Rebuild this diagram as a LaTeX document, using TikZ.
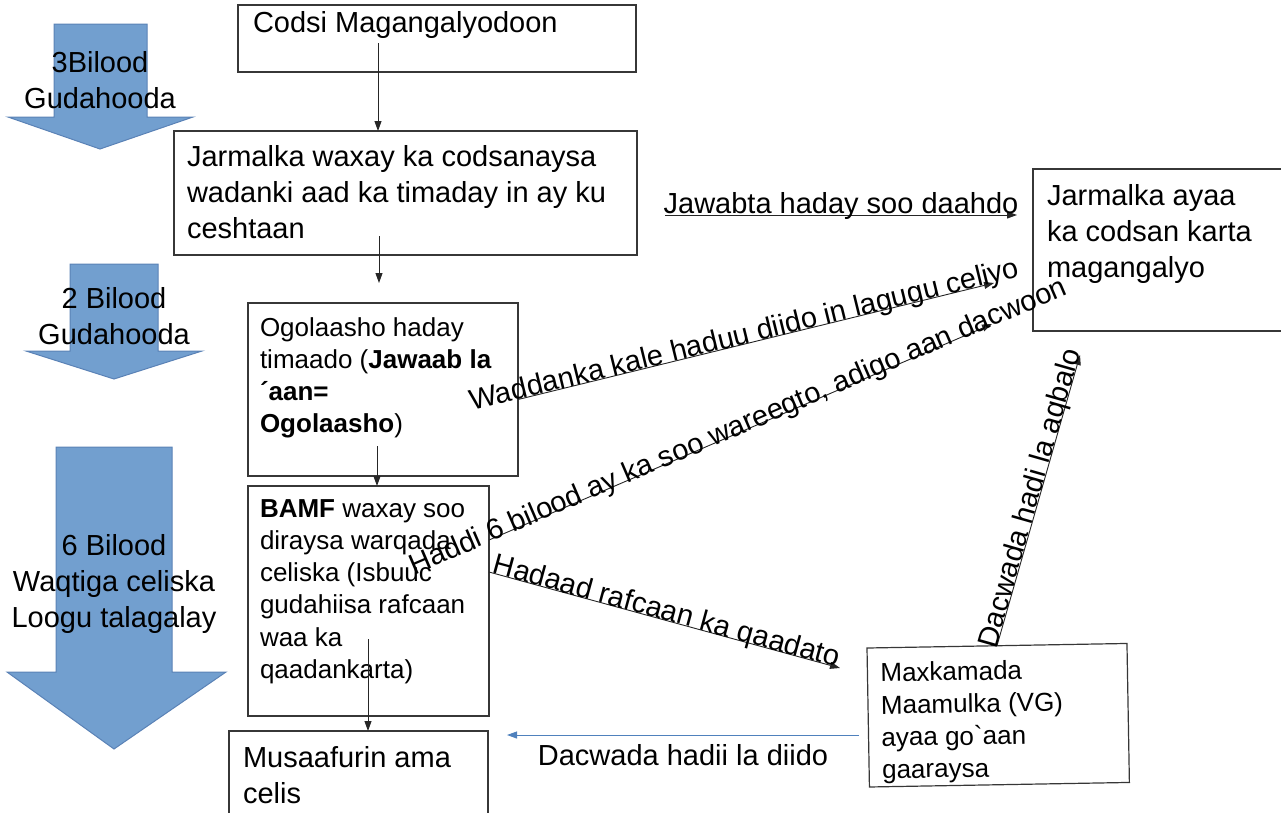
\documentclass[tikz,border=0pt]{standalone}
\usepackage{fontspec}
\setmainfont{Liberation Sans}[Ligatures=TeXOff]
\usetikzlibrary{arrows.meta,calc}
\definecolor{arrfill}{RGB}{114,159,207}
\definecolor{arrline}{RGB}{90,130,182}
\definecolor{bluecon}{RGB}{79,129,189}
\definecolor{boxline}{RGB}{55,55,55}
\newcommand\bigfont{\fontsize{29}{36}\selectfont}
\newcommand\smallfont{\fontsize{26}{32.3}\selectfont}
\newcommand\boxtext[4]{\parbox[b][#1][t]{#2}{\raggedright\rule{0pt}{#3}#4}}
\begin{document}
\begin{tikzpicture}[x=1pt,y=-1pt,
  box/.style={draw=boxline, line width=1.2pt, inner ysep=0pt, outer sep=0pt, anchor=north west, font=\bigfont},
  con/.style={draw=black!85, line width=0.9pt, -{Triangle[length=10pt,width=7pt]}},
  lbl/.style={font=\bigfont, inner sep=0pt, text=black},
  bigarrow/.style={fill=arrfill, draw=arrline, line width=1pt}]
\useasboundingbox (0,0) rectangle (1281,812);
\clip (0,0) rectangle (1281,812);

% big blue arrows
\draw[bigarrow] (54,24) -- (147,24) -- (147,117) -- (193,117) -- (100,149) -- (8,117) -- (54,117) -- cycle;
\draw[bigarrow] (70,264) -- (158,264) -- (158,351) -- (202,351) -- (114,379) -- (26,351) -- (70,351) -- cycle;
\draw[bigarrow] (56,447) -- (172,447) -- (172,672) -- (226,672) -- (114,749) -- (7,672) -- (56,672) -- cycle;
\node[lbl, anchor=base] (a1) at (100,72) {\begin{tabular}[t]{@{}c@{}}3Bilood\\Gudahooda\end{tabular}};
\node[lbl, anchor=base] (a2) at (114,308) {\begin{tabular}[t]{@{}c@{}}2 Bilood\\Gudahooda\end{tabular}};
\node[lbl, anchor=base] (a3) at (114,555) {\begin{tabular}[t]{@{}c@{}}6 Bilood\\Waqtiga celiska\\Loogu talagalay\end{tabular}};

% boxes
\node[box, inner xsep=15pt] (codsi) at (238,5) {\boxtext{67pt}{368pt}{27pt}{Codsi Magangalyodoon}};
\node[box, inner xsep=13pt] (jarm) at (174,131) {\boxtext{124pt}{437pt}{35pt}{Jarmalka waxay ka codsanaysa\\wadanki aad ka timaday in ay ku\\ceshtaan}};
\node[box, inner xsep=12pt, font=\smallfont] (ogol) at (248,303) {\boxtext{173pt}{246pt}{33pt}{Ogolaasho haday\\timaado (\textbf{Jawaab la}\\\textbf{´aan=}\\\textbf{Ogolaasho})}};
\node[box, inner xsep=12pt, font=\smallfont] (bamf) at (248,486) {\boxtext{230pt}{217pt}{31pt}{\textbf{BAMF} waxay soo\\diraysa warqada\\celiska (Isbuuc\\gudahiisa rafcaan\\waa ka\\qaadankarta)}};
\node[box, inner xsep=14pt] (musa) at (229,731) {\boxtext{90pt}{231pt}{36pt}{Musaafurin ama\\celis}};
\node[box, inner xsep=14pt] (jay) at (1033,169) {\boxtext{162pt}{232pt}{36pt}{Jarmalka ayaa\\ka codsan karta\\magangalyo}};
\node[box, inner xsep=13pt, font=\smallfont, rotate=1] (maxk) at (867,648) {\boxtext{139pt}{234pt}{34pt}{Maxkamada\\Maamulka (VG)\\ayaa go`aan\\gaaraysa}};

% vertical connectors
\coordinate (c1) at (378,43);
\draw[con] (c1) -- (c1 |- jarm.north);
\coordinate (c2) at (379,236);
\draw[con] (c2) -- ($(c2 |- ogol.north)+(0,-20)$);
\coordinate (c3) at (377,446);
\draw[con] (c3) -- (c3 |- bamf.north);
\coordinate (c4) at (368,639);
\draw[con] (c4) -- (c4 |- musa.north);

% labelled connectors
\draw[con] ($(jarm.east)+(28,22)$) -- node[lbl, anchor=base, yshift=2pt] (l1) {Jawabta haday soo daahdo} ($(jay.west)+(-16,-35)$);
\coordinate (w2) at (994,283);
\draw[con] ($(ogol.east)+(0,10)$) -- node[lbl, sloped, anchor=base, pos=0.48] (l2) {Waddanka kale haduu diido in lagugu celiyo} (w2);
\coordinate (h2) at (992,324);
\draw[con] ($(bamf.east)+(0,-61)$) -- node[lbl, sloped, anchor=mid] (l3) {Haddi 6 bilood ay ka soo wareegto, adigo aan dacwoon} (h2);
\coordinate (r2) at (840,668);
\draw[con] ($(bamf.east)+(0,-29)$) -- node[lbl, sloped, anchor=base] (l4) {Hadaad rafcaan ka qaadato} (r2);
\coordinate (q2) at (1080,355);
\draw[con] (maxk.north) -- node[lbl, sloped, anchor=base] (l5) {Dacwada hadi la aqbalo} (q2);
\coordinate (d1) at (859,735);
\coordinate (d2) at (507,735);
\draw[con, draw=bluecon, color=bluecon] (d1) -- node[lbl, anchor=base, yshift=-30pt] (l6) {Dacwada hadii la diido} (d2);
\end{tikzpicture}
\end{document}
